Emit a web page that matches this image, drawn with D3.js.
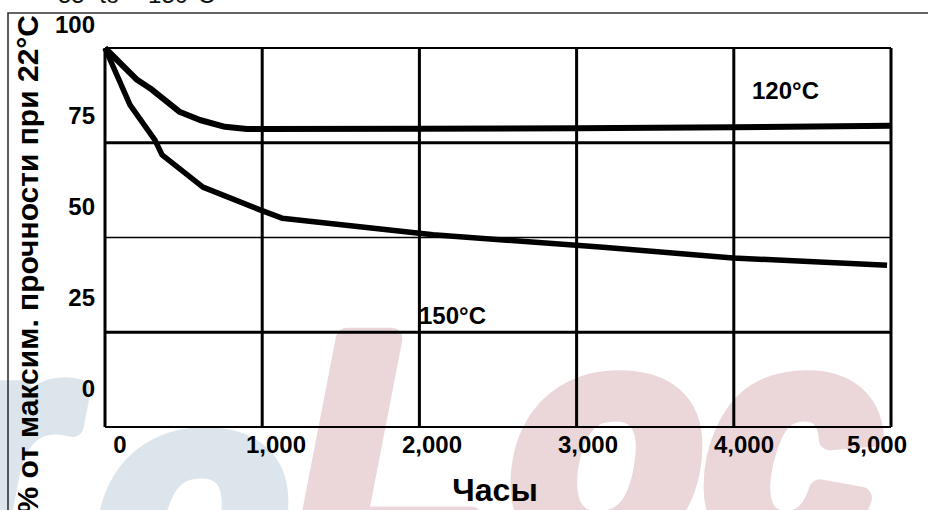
<!DOCTYPE html>
<html>
<head>
<meta charset="utf-8">
<script src="https://cdn.jsdelivr.net/npm/d3@7"></script>
<style>
  body { margin: 0; background: #fff; }
  svg { display: block; }
  text { font-family: "Liberation Sans", Arial, sans-serif; }
</style>
</head>
<body>
<div id="graph"></div>
<script>
"use strict";

// hours on the x axis
var hours120 = [0, 204, 286, 477, 604, 763, 903, 1000, 2000, 3000, 4000, 5000];
var values120 = [100, 91.6, 89.4, 83.1, 81.0, 79.2, 78.6, 78.6, 78.7, 78.8, 79.1, 79.5];

var hours150 = [0, 159, 318, 363, 623, 986, 1126, 2087, 3149, 3995, 4975];
var values150 = [100, 85.0, 75.7, 71.8, 63.3, 57.3, 55.1, 50.7, 47.5, 44.6, 42.7];

var xTicks = [0, 1000, 2000, 3000, 4000, 5000];
var yTicks = [0, 25, 50, 75, 100];
var seriesNames = ["120°C", "150°C"];

var width = 928, height = 510;
var margin = { left: 105, right: 37, top: 48, bottom: 83 };

var svg = d3.select("#graph")
    .append("svg")
    .attr("width", width)
    .attr("height", height);

// watermark letters behind everything
var mark = [
    { ch: "r", x: -55, y: 555, c: "#dde5ec" },
    { ch: "o", x: 98, y: 605, c: "#dde5ec" },
    { ch: "L", x: 300, y: 552, c: "#ebd7d9" },
    { ch: "o", x: 512, y: 548, c: "#ebd7d9" },
    { ch: "c", x: 705, y: 548, c: "#ebd7d9" }
];
svg.append("g").selectAll("text")
    .data(mark)
    .enter().append("text")
    .attr("x", function (d) { return d.x; })
    .attr("y", function (d) { return d.y; })
    .attr("font-size", 310)
    .attr("font-weight", "bold")
    .attr("font-style", "italic")
    .attr("fill", function (d) { return d.c; })
    .attr("stroke", function (d) { return d.c; })
    .attr("stroke-width", 22)
    .attr("stroke-linejoin", "round")
    .text(function (d) { return d.ch; });

// outer frame
svg.append("path")
    .attr("d", "M8," + (height + 5) + "V13H" + (width + 5))
    .attr("fill", "none")
    .attr("stroke", "#333")
    .attr("stroke-width", 1.6);

// cut off caption at the very top
svg.append("text")
    .attr("x", 58)
    .attr("y", 3)
    .attr("font-size", 24)
    .attr("word-spacing", 8)
    .attr("fill", "#111")
    .text("55 to ~150°C");

var x = d3.scaleLinear()
    .domain([0, 5000])
    .range([margin.left, width - margin.right]);
var y = d3.scaleLinear()
    .domain([0, 100])
    .range([height - margin.bottom, margin.top]);

// tick labels in the source sit off the grid, so they get their own scales
var xLab = d3.scaleLinear().domain([0, 4000]).range([120, 744]);
var yLab = d3.scaleLinear().domain([0, 100]).range([397, 33]);

var grid = svg.append("g");
grid.selectAll(".vl")
    .data(xTicks)
    .enter().append("line")
    .attr("x1", function (d) { return x(d); })
    .attr("x2", function (d) { return x(d); })
    .attr("y1", y(100))
    .attr("y2", y(0))
    .attr("stroke", "#000")
    .attr("stroke-width", 3);
grid.selectAll(".hl")
    .data(yTicks)
    .enter().append("line")
    .attr("x1", x(0))
    .attr("x2", x(5000))
    .attr("y1", function (d) { return y(d); })
    .attr("y2", function (d) { return y(d); })
    .attr("stroke", "#000")
    .attr("stroke-width", function (d) { return d === 50 ? 1.6 : (d === 0 || d === 100 ? 2.2 : 3); });

svg.append("g").selectAll("text")
    .data(xTicks)
    .enter().append("text")
    .attr("x", function (d) { return d === 5000 ? 907 : xLab(d); })
    .attr("y", 453)
    .attr("text-anchor", function (d) { return d === 5000 ? "end" : "middle"; })
    .attr("font-size", 24)
    .attr("font-weight", "bold")
    .text(function (d) { return d3.format(",")(d); });

svg.append("g").selectAll("text")
    .data(yTicks)
    .enter().append("text")
    .attr("x", 95)
    .attr("y", function (d) { return yLab(d); })
    .attr("text-anchor", "end")
    .attr("font-size", 24)
    .attr("font-weight", "bold")
    .text(function (d) { return d; });

var line = d3.line()
    .x(function (d) { return x(d[0]); })
    .y(function (d) { return y(d[1]); });

svg.append("path")
    .datum(d3.zip(hours120, values120))
    .attr("d", line)
    .attr("fill", "none")
    .attr("stroke", "#000")
    .attr("stroke-width", 6)
    .attr("stroke-linejoin", "round");
svg.append("path")
    .datum(d3.zip(hours150, values150))
    .attr("d", line)
    .attr("fill", "none")
    .attr("stroke", "#000")
    .attr("stroke-width", 5.5)
    .attr("stroke-linejoin", "round");

svg.append("text")
    .attr("x", 752)
    .attr("y", 99)
    .attr("font-size", 24)
    .attr("font-weight", "bold")
    .text(seriesNames[0]);
svg.append("text")
    .attr("x", 419)
    .attr("y", 324)
    .attr("font-size", 24)
    .attr("font-weight", "bold")
    .text(seriesNames[1]);

svg.append("text")
    .attr("x", 495)
    .attr("y", 501)
    .attr("text-anchor", "middle")
    .attr("font-size", 32)
    .attr("font-weight", "bold")
    .text("Часы");

svg.append("text")
    .attr("transform", "translate(38,15) rotate(-90)")
    .attr("text-anchor", "end")
    .attr("font-size", 30)
    .attr("font-weight", "bold")
    .text("% от максим. прочности при 22°C");
</script>
</body>
</html>
